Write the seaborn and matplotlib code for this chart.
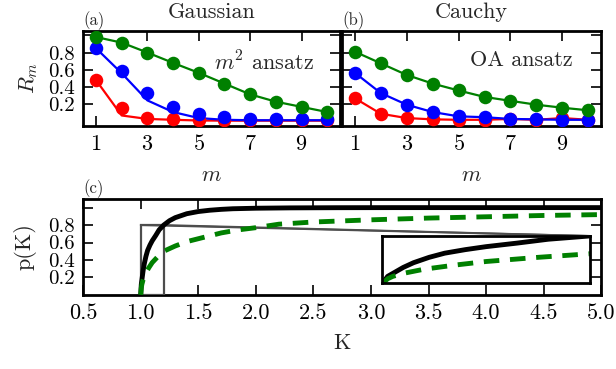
import numpy as np
import pandas as pd
import seaborn as sns
import matplotlib
matplotlib.use("Agg")
import matplotlib.pyplot as plt
from matplotlib.patches import Rectangle

# ---- data ----
m = [1, 2, 3, 4, 5, 6, 7, 8, 9, 10]

# (a) Gaussian, markers = data, lines = m^2 ansatz
gauss_green_pts = [0.98, 0.915, 0.80, 0.68, 0.565, 0.44, 0.315, 0.23, 0.17, 0.11]
gauss_blue_pts = [0.85, 0.59, 0.33, 0.17, 0.09, 0.05, 0.025, 0.025, 0.025, 0.025]
gauss_red_pts = [0.48, 0.16, 0.045, 0.03, 0.02, 0.02, 0.02, 0.02, 0.02, 0.02]
gauss_green_fit = [0.98, 0.915, 0.80, 0.68, 0.565, 0.44, 0.315, 0.23, 0.17, 0.11]
gauss_blue_fit = [0.85, 0.56, 0.245, 0.11, 0.04, 0.02, 0.015, 0.015, 0.015, 0.015]
gauss_red_fit = [0.48, 0.07, 0.03, 0.02, 0.012, 0.01, 0.01, 0.01, 0.01, 0.01]

# (b) Cauchy, OA ansatz
cauchy_green = [0.81, 0.675, 0.54, 0.44, 0.36, 0.285, 0.24, 0.195, 0.16, 0.13]
cauchy_blue = [0.565, 0.33, 0.195, 0.11, 0.06, 0.05, 0.03, 0.025, 0.02, 0.02]
cauchy_red = [0.27, 0.09, 0.04, 0.025, 0.02, 0.02, 0.03, 0.02, 0.04, 0.02]

# (c) p(K)
K_black = [1.0, 1.005, 1.01, 1.02, 1.03, 1.045, 1.06, 1.08, 1.1, 1.13, 1.16, 1.2,
           1.25, 1.3, 1.4, 1.5, 1.6, 1.7, 1.8, 2.0, 2.3, 2.7, 3.2, 4.0, 5.0]
p_black = [0.0, 0.12, 0.17, 0.27, 0.35, 0.44, 0.51, 0.57, 0.62, 0.68, 0.745, 0.80,
           0.85, 0.885, 0.93, 0.955, 0.97, 0.98, 0.987, 0.993, 0.997, 0.999, 1.0, 1.0, 1.0]
K_green = [1.0, 1.005, 1.01, 1.02, 1.04, 1.07, 1.1, 1.15, 1.2, 1.3, 1.4, 1.55,
           1.7, 1.85, 2.0, 2.2, 2.5, 3.0, 3.5, 4.0, 4.5, 5.0]
p_green = [0.0, 0.08, 0.12, 0.17, 0.24, 0.31, 0.37, 0.44, 0.50, 0.56, 0.61, 0.66,
           0.71, 0.745, 0.77, 0.81, 0.835, 0.86, 0.88, 0.895, 0.91, 0.92]

x_ticks_top = [1, 3, 5, 7, 9]
y_ticks = [0.2, 0.4, 0.6, 0.8, 1.0]
y_ticklabels = ["0.2", "0.4", "0.6", "0.8", ""]
k_ticks = [0.5, 1.0, 1.5, 2.0, 2.5, 3.0, 3.5, 4.0, 4.5, 5.0]

zoom_x = (1.0, 1.2)
zoom_y = (0.0, 0.8)
inset_box = (3.1, 0.13, 1.8, 0.545)  # x0, y0, w, h in data coords of (c)

GREEN, BLUE, RED = "#008000", "#0000ff", "#ff0000"
FS = 16

sns.set_theme(style="ticks", rc={
    "xtick.direction": "in", "ytick.direction": "in",
    "xtick.top": True, "ytick.right": True,
    "xtick.major.size": 7, "ytick.major.size": 7,
    "xtick.major.width": 1.2, "ytick.major.width": 1.2,
    "xtick.major.pad": 6, "ytick.major.pad": 6,
    "axes.linewidth": 2, "axes.edgecolor": "black",
    "xtick.color": "black", "ytick.color": "black",
})
plt.rcParams["font.family"] = "serif"
plt.rcParams["font.serif"] = ["cmr10", "DejaVu Serif"]
plt.rcParams["mathtext.fontset"] = "cm"
plt.rcParams["axes.formatter.use_mathtext"] = True

fig = plt.figure(figsize=(6.16, 3.69), dpi=100)
ax_a = fig.add_axes([0.135, 0.659, 0.417, 0.257])
ax_b = fig.add_axes([0.555, 0.659, 0.421, 0.257])
ax_c = fig.add_axes([0.135, 0.201, 0.841, 0.260])

msize = 95
# (a) Gaussian
for fit, pts, c in [(gauss_red_fit, gauss_red_pts, RED),
                    (gauss_blue_fit, gauss_blue_pts, BLUE),
                    (gauss_green_fit, gauss_green_pts, GREEN)]:
    sns.lineplot(x=m, y=fit, ax=ax_a, color=c, lw=1.6)
    sns.scatterplot(x=m, y=pts, ax=ax_a, color=c, s=msize, linewidth=0, zorder=3)

# (b) Cauchy
for vals, c in [(cauchy_red, RED), (cauchy_blue, BLUE), (cauchy_green, GREEN)]:
    sns.lineplot(x=m, y=vals, ax=ax_b, color=c, lw=1.6)
    sns.scatterplot(x=m, y=vals, ax=ax_b, color=c, s=msize, linewidth=0, zorder=3)

for ax in (ax_a, ax_b):
    ax.set_xlim(0.5, 10.5)
    ax.set_ylim(-0.05, 1.05)
    ax.set_xticks(x_ticks_top)
    ax.set_yticks(y_ticks)
    ax.set_xlabel("$m$", labelpad=8, fontsize=FS)
    ax.tick_params(axis="x", labelsize=FS)
    ax.tick_params(axis="y", labelsize=15)

ax_a.set_yticklabels(y_ticklabels)
ax_b.set_yticklabels([])
ax_a.set_ylabel("$R_m$", labelpad=6, fontsize=FS)
ax_a.set_title("Gaussian", fontsize=FS, pad=9)
ax_b.set_title("Cauchy", fontsize=FS, pad=9)
ax_a.text(0.0, 1.01, "(a)", transform=ax_a.transAxes, fontsize=12, va="bottom", ha="left")
ax_b.text(0.0, 1.01, "(b)", transform=ax_b.transAxes, fontsize=12, va="bottom", ha="left")
ax_a.text(0.9, 0.67, "$m^2$ ansatz", transform=ax_a.transAxes, fontsize=FS, ha="right", va="center")
ax_b.text(0.89, 0.69, "OA ansatz", transform=ax_b.transAxes, fontsize=FS, ha="right", va="center")

# (c) p(K)
dash = (0, (3.2, 2.2))
sns.lineplot(x=K_black, y=p_black, ax=ax_c, color="black", lw=3.5, zorder=4)
sns.lineplot(x=K_green, y=p_green, ax=ax_c, color=GREEN, lw=3.5, linestyle=dash, zorder=4)
ax_c.set_xlim(0.5, 5.0)
ax_c.set_ylim(0, 1.1)
ax_c.set_xticks(k_ticks)
ax_c.set_xticklabels([f"{k:.1f}" for k in k_ticks])
ax_c.set_yticks(y_ticks)
ax_c.set_yticklabels(y_ticklabels)
ax_c.set_xlabel("K", labelpad=8, fontsize=FS)
ax_c.set_ylabel("p(K)", labelpad=8, fontsize=FS)
ax_c.tick_params(axis="x", labelsize=FS)
ax_c.tick_params(axis="y", labelsize=15)
ax_c.text(0.0, 1.01, "(c)", transform=ax_c.transAxes, fontsize=12, va="bottom", ha="left")

# zoom inset
axins = ax_c.inset_axes(list(inset_box), transform=ax_c.transData)
sns.lineplot(x=K_black, y=p_black, ax=axins, color="black", lw=3.5)
sns.lineplot(x=K_green, y=p_green, ax=axins, color=GREEN, lw=3.5, linestyle=dash)
axins.set_xlim(*zoom_x)
axins.set_ylim(*zoom_y)
axins.set_xticks([])
axins.set_yticks([])
axins.set_xlabel("")
axins.set_ylabel("")
for sp in axins.spines.values():
    sp.set_linewidth(2)

ax_c.add_patch(Rectangle((zoom_x[0], zoom_y[0]), zoom_x[1] - zoom_x[0], zoom_y[1] - zoom_y[0],
                         fill=False, edgecolor="0.3", lw=1.6, zorder=3))
corner = (inset_box[0] + inset_box[2], inset_box[1] + inset_box[3])
for zx in zoom_x:
    ax_c.plot([zx, corner[0]], [zoom_y[1], corner[1]], color="0.3", lw=1.4, zorder=3)

fig.savefig("out.png", dpi=100)
